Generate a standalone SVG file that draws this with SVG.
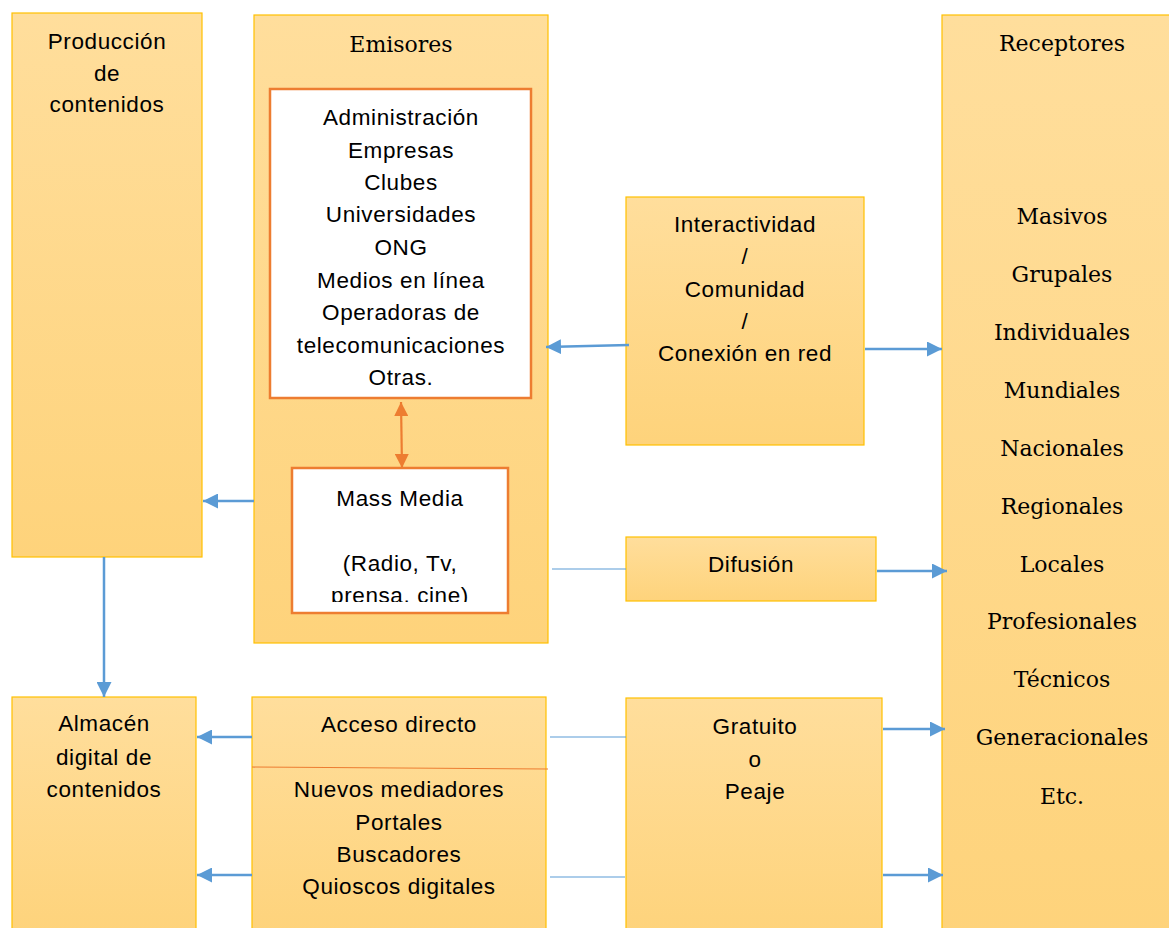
<svg xmlns="http://www.w3.org/2000/svg" width="1169" height="928" viewBox="0 0 1169 928">
<defs>
<linearGradient id="g" x1="0" y1="0" x2="0" y2="1">
<stop offset="0" stop-color="#FFDE9C"/>
<stop offset="1" stop-color="#FED37B"/>
</linearGradient>
<marker id="ab" viewBox="0 0 10 10" refX="10" refY="5" markerWidth="6" markerHeight="6" orient="auto" markerUnits="strokeWidth">
<path d="M0,0 L10,5 L0,10 z" fill="#5B9BD5"/>
</marker>
<marker id="ao" viewBox="0 0 10 10" refX="10" refY="5" markerWidth="6.5" markerHeight="6.5" orient="auto-start-reverse" markerUnits="strokeWidth">
<path d="M0,0 L10,5 L0,10 z" fill="#ED7D31"/>
</marker>
<clipPath id="mmclip"><rect x="294" y="470" width="212" height="132"/></clipPath>
</defs>
<style>
.box{fill:url(#g);stroke:#FFC000;stroke-width:1.2}
.wbox{fill:#FFFFFF;stroke:#ED7D31;stroke-width:2.5}
.t{font-family:"Liberation Sans",Arial,sans-serif;font-size:22.5px;letter-spacing:0.6px;fill:#000;text-anchor:middle}
.s{font-family:"DejaVu Serif","Liberation Serif",serif;font-size:22px;fill:#000;text-anchor:middle}
.c{stroke:#5B9BD5;stroke-width:2.5;fill:none}
.thin{stroke:#5B9BD5;stroke-width:1.2;fill:none}
</style>
<rect width="1169" height="928" fill="#FFFFFF"/>

<g id="produccion">
<rect class="box" x="12" y="13" width="190" height="544"/>
<text class="t" x="107" y="49">Producción</text>
<text class="t" x="107" y="81">de</text>
<text class="t" x="107" y="112">contenidos</text>
</g>

<g id="emisores">
<rect class="box" x="254" y="15" width="294" height="628"/>
<text class="s" x="401" y="52">Emisores</text>
</g>

<g id="emisores-lista">
<rect class="wbox" x="270" y="89" width="261" height="309"/>
<text class="t" x="401" y="125">Administración</text>
<text class="t" x="401" y="157.5">Empresas</text>
<text class="t" x="401" y="190">Clubes</text>
<text class="t" x="401" y="222">Universidades</text>
<text class="t" x="401" y="255">ONG</text>
<text class="t" x="401" y="287.5">Medios en línea</text>
<text class="t" x="401" y="320">Operadoras de</text>
<text class="t" x="401" y="352.5">telecomunicaciones</text>
<text class="t" x="401" y="385">Otras.</text>
</g>

<g id="massmedia">
<rect class="wbox" x="292" y="468" width="216" height="145"/>
<g clip-path="url(#mmclip)">
<text class="t" x="400" y="506">Mass Media</text>
<text class="t" x="400" y="571">(Radio, Tv,</text>
<text class="t" x="400" y="603">prensa, cine)</text>
</g>
</g>

<g id="interactividad">
<rect class="box" x="626" y="197" width="238" height="248"/>
<text class="t" x="745" y="232">Interactividad</text>
<text class="t" x="745" y="264">/</text>
<text class="t" x="745" y="297">Comunidad</text>
<text class="t" x="745" y="329">/</text>
<text class="t" x="745" y="361">Conexión en red</text>
</g>

<g id="difusion">
<rect class="box" x="626" y="537" width="250" height="64"/>
<text class="t" x="751" y="572">Difusión</text>
</g>

<g id="receptores">
<rect class="box" x="942" y="15" width="240" height="925"/>
<text class="s" x="1062" y="51">Receptores</text>
<text class="s" x="1062" y="224">Masivos</text>
<text class="s" x="1062" y="282">Grupales</text>
<text class="s" x="1062" y="340">Individuales</text>
<text class="s" x="1062" y="398">Mundiales</text>
<text class="s" x="1062" y="456">Nacionales</text>
<text class="s" x="1062" y="514">Regionales</text>
<text class="s" x="1062" y="572">Locales</text>
<text class="s" x="1062" y="629">Profesionales</text>
<text class="s" x="1062" y="687">Técnicos</text>
<text class="s" x="1062" y="745">Generacionales</text>
<text class="s" x="1062" y="804">Etc.</text>
</g>

<g id="almacen">
<rect class="box" x="12" y="697" width="184" height="240"/>
<text class="t" x="104" y="731">Almacén</text>
<text class="t" x="104" y="765">digital de</text>
<text class="t" x="104" y="797">contenidos</text>
</g>

<g id="acceso">
<rect class="box" x="252" y="697" width="294" height="240"/>
<line x1="252" y1="767" x2="548" y2="769" stroke="#ED7D31" stroke-width="1.2"/>
<text class="t" x="399" y="732">Acceso directo</text>
<text class="t" x="399" y="797">Nuevos mediadores</text>
<text class="t" x="399" y="830">Portales</text>
<text class="t" x="399" y="862">Buscadores</text>
<text class="t" x="399" y="894">Quioscos digitales</text>
</g>

<g id="gratuito">
<rect class="box" x="626" y="698" width="256" height="240"/>
<text class="t" x="755" y="734">Gratuito</text>
<text class="t" x="755" y="767">o</text>
<text class="t" x="755" y="799">Peaje</text>
</g>

<g id="connectors">
<line class="c" x1="254" y1="501" x2="203" y2="501" marker-end="url(#ab)"/>
<line class="c" x1="104" y1="557" x2="104" y2="697" marker-end="url(#ab)"/>
<line class="c" x1="629" y1="345" x2="546" y2="347" marker-end="url(#ab)"/>
<line class="c" x1="865" y1="349" x2="942" y2="349" marker-end="url(#ab)"/>
<line x1="401" y1="402" x2="402" y2="468" stroke="#ED7D31" stroke-width="2.2" marker-start="url(#ao)" marker-end="url(#ao)"/>
<line class="thin" x1="552" y1="569" x2="626" y2="569"/>
<line class="c" x1="877" y1="571" x2="947" y2="571" marker-end="url(#ab)"/>
<line class="c" x1="252" y1="737" x2="197" y2="737" marker-end="url(#ab)"/>
<line class="c" x1="252" y1="875" x2="197" y2="875" marker-end="url(#ab)"/>
<line class="thin" x1="550" y1="737" x2="626" y2="737"/>
<line class="thin" x1="550" y1="877" x2="625" y2="877"/>
<line class="c" x1="883" y1="729" x2="945" y2="729" marker-end="url(#ab)"/>
<line class="c" x1="883" y1="875" x2="943" y2="875" marker-end="url(#ab)"/>
</g>
</svg>
